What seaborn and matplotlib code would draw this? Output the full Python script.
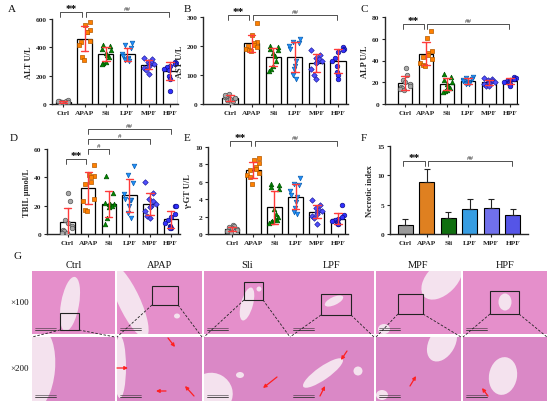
import numpy as np
import pandas as pd
import matplotlib
matplotlib.use("Agg")
import matplotlib.pyplot as plt
import matplotlib.transforms as mtrans
from matplotlib.patches import Rectangle, Ellipse
import seaborn as sns

# ---------------- data ----------------
groups = ["Ctrl", "APAP", "Sli", "LPF", "MPF", "HPF"]

alt_ctrl = [10, 20, 15, 8, 25, 12, 18, 5, 22, 15]
alt_apap = [580, 555, 525, 510, 505, 440, 445, 420, 330, 310]
alt_sli = [420, 410, 390, 380, 360, 345, 330, 300, 290, 280]
alt_lpf = [430, 420, 395, 350, 340, 325, 320, 315, 310, 305]
alt_mpf = [325, 315, 300, 295, 285, 280, 270, 255, 240, 215]
alt_hpf = [300, 290, 280, 270, 260, 250, 240, 200, 180, 90]

ast_ctrl = [5, 10, 15, 18, 20, 22, 25, 28, 30, 35]
ast_apap = [280, 238, 215, 210, 205, 200, 195, 190, 185, 182]
ast_sli = [200, 195, 190, 185, 175, 165, 150, 130, 120, 115]
ast_lpf = [225, 215, 210, 200, 190, 150, 130, 120, 100, 85]
ast_mpf = [185, 170, 160, 155, 150, 145, 140, 120, 100, 85]
ast_hpf = [195, 190, 185, 180, 160, 150, 130, 110, 100, 85]

alp_ctrl = [33, 27, 22, 20, 18, 17, 16, 15, 14, 13]
alp_apap = [67, 61, 49, 47, 45, 43, 41, 38, 36, 35]
alp_sli = [28, 25, 22, 20, 18, 17, 15, 13, 12, 11]
alp_lpf = [25, 24, 23, 22, 21, 20, 20, 19, 18, 18]
alp_mpf = [24, 23, 22, 21, 20, 20, 19, 18, 17, 17]
alp_hpf = [25, 24, 23, 22, 21, 20, 20, 19, 18, 17]

tbil_ctrl = [29, 23, 10, 8, 6, 4, 3, 2, 1, 1]
tbil_apap = [49, 42, 41, 40, 37, 35, 25, 23, 17, 16]
tbil_sli = [41, 29, 22, 21, 21, 21, 20, 19, 11, 7]
tbil_lpf = [48, 42, 36, 28, 25, 24, 24, 20, 15, 11]
tbil_mpf = [37, 29, 25, 23, 21, 20, 19, 16, 13, 11]
tbil_hpf = [20, 20, 14, 12, 10, 8, 6, 5, 4, 4]

ggt_ctrl = [1.0, 0.9, 0.8, 0.7, 0.6, 0.5, 0.4, 0.3, 0.3, 0.2]
ggt_apap = [8.7, 8.5, 8.2, 7.7, 7.5, 7.3, 7.0, 6.8, 6.6, 5.7]
ggt_sli = [5.7, 5.6, 5.4, 5.2, 2.9, 2.3, 2.0, 1.7, 1.5, 1.4, 1.3, 1.6]
ggt_lpf = [6.4, 5.8, 5.6, 5.0, 4.5, 4.2, 3.7, 3.0, 2.5, 2.3]
ggt_mpf = [3.9, 3.3, 3.0, 2.8, 2.6, 2.5, 2.3, 2.1, 1.8, 1.2]
ggt_hpf = [3.3, 2.2, 2.0, 1.7, 1.6, 1.5, 1.4, 1.3, 1.2, 1.2]

necrotic_mean = [1.5, 8.8, 2.8, 4.2, 4.5, 3.2]
necrotic_sd = [1.1, 2.2, 1.0, 1.7, 1.5, 1.0]

hist_cols = ["Ctrl", "APAP", "Sli", "LPF", "MPF", "HPF"]
hist_rows = ["\u00d7100", "\u00d7200"]

# ---------------- style ----------------
sns.set_theme(style="ticks")
plt.rcParams["font.family"] = ["Liberation Serif", "DejaVu Serif"]
plt.rcParams["axes.linewidth"] = 1.0

marker_colors = ["#a8a8a8", "#ff8000", "#008a00", "#1e90ff", "#4f4fff", "#3030ff"]
marker_edges = ["#555555", "#b35900", "#005000", "#0b5fb0", "#2222a0", "#10108a"]
markers = ["o", "s", "^", "v", "D", "o"]
bar_colors_f = ["#9a9a9a", "#ff8000", "#007f00", "#1aa3ff", "#5c5cff", "#3d3dff"]

W, H = 550, 406
fig = plt.figure(figsize=(5.5, 4.06), dpi=100)


def frect(x0, y0, x1, y1):
    return [x0 / W, 1 - y1 / H, (x1 - x0) / W, (y1 - y0) / H]


def bracket(ax, x0, x1, y, text, star=False, h=0.06):
    tr = mtrans.blended_transform_factory(ax.transData, ax.transAxes)
    ax.plot([x0, x0, x1, x1], [y - h, y, y, y - h], transform=tr, color="#333333",
            lw=0.6, clip_on=False)
    if star:
        ax.text((x0 + x1) / 2, y - 0.01, text, transform=tr, ha="center", va="bottom",
                fontsize=8, fontweight="bold", color="black")
    else:
        ax.text((x0 + x1) / 2, y + 0.015, text, transform=tr, ha="center", va="bottom",
                fontsize=5, color="#333333")


def style_axis(ax, ylim, yticks, ylabel, xlim):
    ax.set_ylim(*ylim)
    ax.set_yticks(yticks)
    ax.set_xlim(*xlim)
    ax.set_xlabel("")
    ax.set_ylabel(ylabel, fontsize=6, fontweight="bold", labelpad=2)
    sns.despine(ax=ax)
    ax.tick_params(axis="both", labelsize=5.3, length=2.5, width=0.8, pad=1.5)
    for lab in ax.get_xticklabels() + ax.get_yticklabels():
        lab.set_fontweight("bold")
    ax.set_facecolor("none")


def dot_panel(rect, series, ylim, yticks, ylabel, xlim):
    ax = fig.add_axes(frect(*rect))
    df = pd.concat([pd.DataFrame({"group": g, "value": v}) for g, v in zip(groups, series)],
                   ignore_index=True)
    sns.barplot(data=df, x="group", y="value", order=groups, color="white",
                edgecolor="black", linewidth=0.9, width=0.7, errorbar="sd",
                capsize=0.35, err_kws={"color": "#ff3b3b", "linewidth": 1.0}, ax=ax)
    for ln in ax.lines:
        ln.set_zorder(6)
    for i, g in enumerate(groups):
        np.random.seed(3 + i)
        sns.stripplot(data=df[df.group == g], x="group", y="value", order=groups,
                      marker=markers[i], color=marker_colors[i], edgecolor=marker_edges[i],
                      linewidth=0.5, size=3.3 if markers[i] != "D" else 2.8,
                      jitter=0.28, ax=ax, zorder=4)
    style_axis(ax, ylim, yticks, ylabel, xlim)
    return ax


# A
axA = dot_panel((52, 20, 178, 105), [alt_ctrl, alt_apap, alt_sli, alt_lpf, alt_mpf, alt_hpf],
                (0, 600), [0, 200, 400, 600], "ALT U/L", (-0.52, 5.37))
bracket(axA, -0.15, 0.9, 1.08, "**", star=True)
bracket(axA, 1.07, 4.95, 1.08, "##")

# B
axB = dot_panel((203, 18, 348, 105), [ast_ctrl, ast_apap, ast_sli, ast_lpf, ast_mpf, ast_hpf],
                (0, 300), [0, 100, 200, 300], "AST U/L", (-1.25, 5.46))
bracket(axB, -0.1, 0.9, 1.02, "**", star=True)
bracket(axB, 1.07, 4.95, 1.02, "##")

# C
axC = dot_panel((385, 18, 518, 105), [alp_ctrl, alp_apap, alp_sli, alp_lpf, alp_mpf, alp_hpf],
                (0, 80), [0, 20, 40, 60, 80], "ALP U/L", (-0.95, 5.38))
bracket(axC, -0.1, 0.9, 0.92, "**", star=True)
bracket(axC, 1.07, 4.95, 0.92, "##")

# D
axD = dot_panel((47, 150, 180, 235), [tbil_ctrl, tbil_apap, tbil_sli, tbil_lpf, tbil_mpf, tbil_hpf],
                (0, 60), [0, 20, 40, 60], "TBIL \u03bcmol/L", (-1.0, 5.45))
bracket(axD, -0.1, 0.9, 0.88, "**", star=True)
bracket(axD, 1.0, 2.0, 1.0, "#")
bracket(axD, 1.0, 4.0, 1.12, "#")
bracket(axD, 1.0, 5.0, 1.235, "##")

# E
axE = dot_panel((208, 148, 348, 235), [ggt_ctrl, ggt_apap, ggt_sli, ggt_lpf, ggt_mpf, ggt_hpf],
                (0, 10), [0, 2, 4, 6, 8, 10], "\u03b3-GT U/L", (-1.13, 5.47))
bracket(axE, -0.1, 0.9, 1.07, "**", star=True)
bracket(axE, 1.07, 4.95, 1.07, "##")

# F
axF = fig.add_axes(frect(390, 147, 528, 235))
sns.barplot(x=groups, y=necrotic_mean, hue=groups, palette=bar_colors_f, legend=False,
            edgecolor="black", linewidth=0.8, width=0.7, ax=axF)
axF.errorbar(range(len(groups)), necrotic_mean,
             yerr=[np.zeros(len(groups)), necrotic_sd], fmt="none", ecolor="#222222",
             elinewidth=0.8, capsize=2.5, capthick=0.8, zorder=5)
style_axis(axF, (0, 15), [0, 5, 10, 15], "Necrotic index", (-0.7, 5.7))
bracket(axF, -0.1, 0.9, 0.83, "**", star=True)
bracket(axF, 1.07, 4.95, 0.83, "##")

# ---------------- G: histology placeholders ----------------
col_x = [(32, 115), (117, 202), (204, 290), (290, 374), (376, 461), (463, 547)]
row_y = [(272, 335), (338, 402)]
tissue = ["#e58fcb", "#da88c6"]
lumen = "#f4e2ee"

vessels = {
    (0, 0): [(38, 33, 18, 55, 10)],
    (0, 1): [(6, 32, 34, 80, 5)],
    (1, 0): [(12, 30, 22, 80, -25), (60, 45, 6, 5, 0)],
    (1, 1): [(3, 30, 12, 62, 0)],
    (2, 0): [(43, 33, 12, 34, 15), (55, 18, 5, 5, 0)],
    (2, 1): [(8, 56, 42, 40, 30), (36, 38, 8, 6, 0)],
    (3, 0): [(44, 30, 20, 8, -25)],
    (3, 1): [(33, 36, 48, 13, -35), (68, 34, 9, 9, 0)],
    (4, 0): [(66, 8, 30, 50, 45), (8, 58, 12, 10, 0)],
    (4, 1): [(66, 6, 26, 40, 30), (6, 58, 12, 10, 0)],
    (5, 0): [(42, 31, 13, 17, 0)],
    (5, 1): [(40, 39, 28, 38, 10)],
}

for ci, (x0, x1) in enumerate(col_x):
    for ri, (y0, y1) in enumerate(row_y):
        ax = fig.add_axes(frect(x0, y0, x1, y1))
        ax.set_facecolor(tissue[ri])
        ax.set_xlim(0, x1 - x0)
        ax.set_ylim(y1 - y0, 0)
        ax.set_xticks([])
        ax.set_yticks([])
        for s in ax.spines.values():
            s.set_visible(False)
        for (cx, cy, w, h, a) in vessels[(ci, ri)]:
            ax.add_patch(Ellipse((cx, cy), w, h, angle=a, facecolor=lumen, edgecolor="none"))
        ax.plot([3, 24], [y1 - y0 - 4] * 2, color="#333333", lw=0.6)
        ax.plot([3, 24], [y1 - y0 - 6] * 2, color="#333333", lw=0.4)

# overlay for annotations in pixel coordinates
ov = fig.add_axes([0, 0, 1, 1])
ov.set_xlim(0, W)
ov.set_ylim(H, 0)
ov.axis("off")
ov.patch.set_alpha(0)

boxes = [(60, 314, 79, 331), (152, 287, 178, 306), (244, 283, 263, 301),
         (321, 295, 351, 316), (398, 295, 423, 315), (490, 292, 519, 315)]
for (bx0, by0, bx1, by1), (cx0, cx1) in zip(boxes, col_x):
    ov.add_patch(Rectangle((bx0, by0), bx1 - bx0, by1 - by0, fill=False,
                           edgecolor="#222222", lw=0.8))
    ov.plot([bx0, cx0], [by1, 338], color="#222222", lw=0.6, ls=(0, (3, 2)))
    ov.plot([bx1, cx1], [by1, 338], color="#222222", lw=0.6, ls=(0, (3, 2)))

arrows = [((168, 339), (175, 348)), ((117, 369), (128, 369)), ((166, 392), (156, 392)),
          ((194, 397), (185, 387)), ((277, 378), (263, 389)), ((347, 352), (341, 361)),
          ((320, 397), (325, 387)), ((410, 387), (416, 377)), ((488, 397), (482, 389))]
for tail, head in arrows:
    ov.annotate("", xy=head, xytext=tail,
                arrowprops=dict(arrowstyle="-|>", color="#ff2020", lw=0.9,
                                mutation_scale=5, shrinkA=0, shrinkB=0))

for name, (x0, x1) in zip(hist_cols, col_x):
    ov.text((x0 + x1) / 2, 266, name, ha="center", va="center", fontsize=7.5, color="#111111")
ov.text(20, 303, hist_rows[0], ha="center", va="center", fontsize=6.5, color="#111111")
ov.text(20, 369, hist_rows[1], ha="center", va="center", fontsize=6.5, color="#111111")

for letter, (lx, ly) in zip("ABCDEFG", [(12, 10), (187, 10), (364, 10), (14, 139),
                                         (187, 139), (364, 139), (17, 257)]):
    ov.text(lx, ly, letter, ha="center", va="center", fontsize=8, color="#111111")

fig.savefig("out.png", dpi=100, facecolor="white")
